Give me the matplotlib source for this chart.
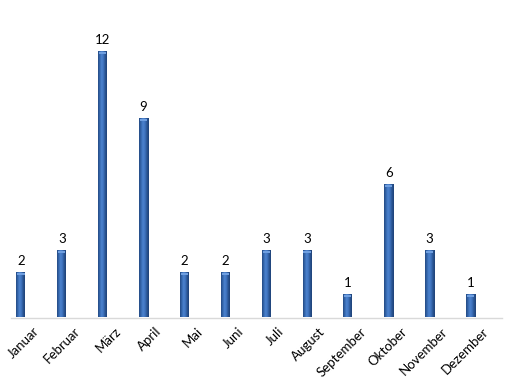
import matplotlib
matplotlib.use("Agg")
import matplotlib.pyplot as plt
import matplotlib.transforms as mtransforms
from matplotlib.colors import LinearSegmentedColormap
import numpy as np

months = ["Januar", "Februar", "März", "April", "Mai", "Juni", "Juli",
          "August", "September", "Oktober", "November", "Dezember"]
counts = [2, 3, 12, 9, 2, 2, 3, 3, 1, 6, 3, 1]

plt.rcParams['font.family'] = ['Lato', 'DejaVu Sans']

W, H = 509, 382
fig = plt.figure(figsize=(W / 100, H / 100), dpi=100)
base_px = 64.5
unit_px = 22.1
step_px = 40.86
first_px = 21
ax = fig.add_axes([0, base_px / H, 1, (H - base_px) / H])

x = np.arange(len(months))
bw = 9 / step_px
cmap = LinearSegmentedColormap.from_list(
    "cyl", ["#244a82", "#3567ad", "#4c83cf", "#3f74bf", "#2a5593", "#1f4277"])
grad = np.linspace(0, 1, 64).reshape(1, -1)
cap = 2 / unit_px
for xi, v in zip(x, counts):
    ax.imshow(grad, extent=[xi - bw / 2, xi + bw / 2, 0, v], aspect='auto',
              cmap=cmap, zorder=2, interpolation='bilinear')
    ax.bar(xi, cap, width=bw * 0.8, bottom=v - cap, color="#6f9fe0", zorder=3,
           linewidth=0)
    ax.text(xi, v + 6 / unit_px, str(v), ha='center', va='bottom',
            fontsize=9.5, color='#000000')

ax.plot([-10 / step_px, (502 - first_px) / step_px], [0, 0], color='#d9d9d9',
        linewidth=1.0, zorder=1, clip_on=False)

ax.set_xlim(-first_px / step_px, (W - first_px) / step_px)
ax.set_ylim(0, (H - base_px) / unit_px)

for s in ax.spines.values():
    s.set_visible(False)
ax.set_yticks([])
ax.set_xticks(x)
ax.set_xticklabels(months, rotation=45, ha='right', va='center',
                   rotation_mode='anchor', fontsize=9.5, color='#000000')
ax.tick_params(axis='x', length=0, pad=0)
offset = mtransforms.ScaledTranslation(16 / 100, -12 / 100, fig.dpi_scale_trans)
for lbl in ax.get_xticklabels():
    lbl.set_transform(lbl.get_transform() + offset)

fig.savefig("out.png", dpi=100)
